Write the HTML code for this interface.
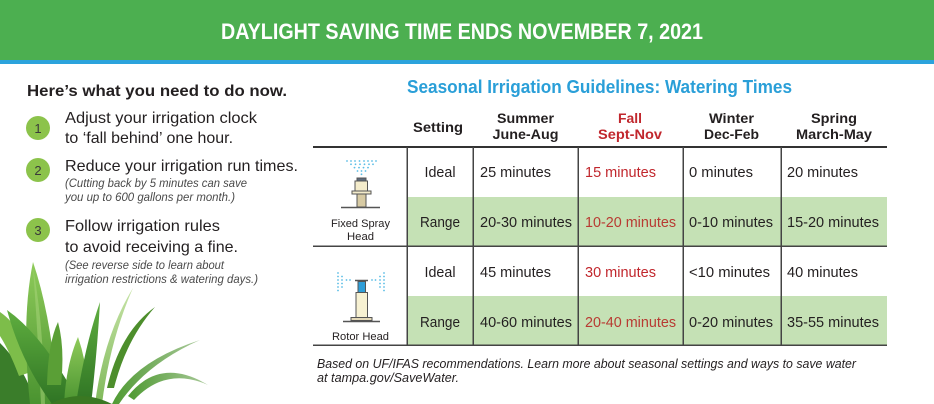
<!DOCTYPE html>
<html><head><meta charset="utf-8"><style>
html,body{margin:0;padding:0;background:#fff;}
svg{display:block;}
</style></head><body>
<svg width="934" height="404" viewBox="0 0 934 404" xmlns="http://www.w3.org/2000/svg">
<defs>
<linearGradient id="lg1" x1="0" y1="0" x2="0" y2="1"><stop offset="0" stop-color="#5fae3f"/><stop offset="1" stop-color="#2f7424"/></linearGradient>
<linearGradient id="lg2" x1="0" y1="0" x2="0" y2="1"><stop offset="0" stop-color="#8fcb5a"/><stop offset="1" stop-color="#4a9330"/></linearGradient>
<linearGradient id="lg3" x1="0" y1="0" x2="0" y2="1"><stop offset="0" stop-color="#c6e3a6"/><stop offset="1" stop-color="#7fb95a"/></linearGradient>
<linearGradient id="lg4" x1="0" y1="0" x2="1" y2="0"><stop offset="0" stop-color="#4f9a32"/><stop offset="1" stop-color="#a9c99a"/></linearGradient>
</defs>
<!-- banner -->
<rect x="0" y="0" width="934" height="60" fill="#4caf50"/>
<rect x="0" y="60" width="934" height="4" fill="#2ba3dc"/>
<text x="221" y="39" font-family="'Liberation Sans Narrow','Liberation Sans',sans-serif" font-weight="bold" font-size="22" fill="#fff" textLength="482" lengthAdjust="spacingAndGlyphs">DAYLIGHT SAVING TIME ENDS NOVEMBER 7, 2021</text>

<!-- plant -->
<g>
<path d="M0,343 Q25,368 36,404 L0,404 Z" fill="#3a7d2a"/>
<path d="M0,312 Q26,330 31,372 L19,376 Q9,350 0,336 Z" fill="#7dbd4a"/>
<path d="M33,262 Q52,318 58,404 L30,404 Q21,320 33,262 Z" fill="url(#lg2)"/>
<path d="M33,268 Q43,320 45,404 L41,404 Q37,320 33,268 Z" fill="#a6d479" opacity="0.55"/>
<path d="M7,310 Q44,336 80,404 L52,404 Q21,362 7,310 Z" fill="url(#lg1)"/>
<path d="M58,322 Q65,348 61,385 L47,385 Q48,343 58,322 Z" fill="#5a9f36"/>
<path d="M78,337 Q90,372 86,404 L64,404 Q66,365 78,337 Z" fill="url(#lg2)"/>
<path d="M100,302 Q97,355 91,404 L76,404 Q85,345 100,302 Z" fill="url(#lg1)"/>
<path d="M133,288 Q110,340 102,404 L95,404 Q104,335 133,288 Z" fill="url(#lg3)"/>
<path d="M155,307 Q126,340 114,388 L107,388 Q120,332 155,307 Z" fill="#4d8e2c"/>
<path d="M112,404 Q132,362 200,340 Q146,364 119,404 Z" fill="url(#lg4)"/>
<path d="M128,396 Q160,356 208,385 Q166,366 134,400 Z" fill="url(#lg4)"/>
<path d="M50,404 Q80,388 112,404 Z" fill="#3a7822"/>
</g>

<!-- left instructions -->
<g font-family="'Liberation Sans',sans-serif">
<text x="27" y="96" font-size="16" font-weight="bold" fill="#231f20" textLength="260" lengthAdjust="spacingAndGlyphs">Here’s what you need to do now.</text>
<circle cx="38" cy="128" r="12" fill="#8cc34b"/>
<circle cx="38" cy="170" r="12" fill="#8cc34b"/>
<circle cx="38" cy="230" r="12" fill="#8cc34b"/>
<text x="38" y="133" font-size="13" fill="#3a3a3a" text-anchor="middle">1</text>
<text x="38" y="175" font-size="13" fill="#3a3a3a" text-anchor="middle">2</text>
<text x="38" y="235" font-size="13" fill="#3a3a3a" text-anchor="middle">3</text>
<g font-size="16" fill="#231f20">
<text x="65" y="123" textLength="192" lengthAdjust="spacingAndGlyphs">Adjust your irrigation clock</text>
<text x="65" y="143" textLength="168" lengthAdjust="spacingAndGlyphs">to ‘fall behind’ one hour.</text>
<text x="65" y="171" textLength="233" lengthAdjust="spacingAndGlyphs">Reduce your irrigation run times.</text>
<text x="65" y="231" textLength="155" lengthAdjust="spacingAndGlyphs">Follow irrigation rules</text>
<text x="65" y="252" textLength="173" lengthAdjust="spacingAndGlyphs">to avoid receiving a fine.</text>
</g>
<g font-size="12" font-style="italic" fill="#4a4a4a" font-family="'Liberation Sans Narrow','Liberation Sans',sans-serif">
<text x="65" y="187" textLength="182" lengthAdjust="spacingAndGlyphs">(Cutting back by 5 minutes can save</text>
<text x="65" y="201" textLength="170" lengthAdjust="spacingAndGlyphs">you up to 600 gallons per month.)</text>
<text x="65" y="269" textLength="159" lengthAdjust="spacingAndGlyphs">(See reverse side to learn about</text>
<text x="65" y="283" textLength="193" lengthAdjust="spacingAndGlyphs">irrigation restrictions &amp; watering days.)</text>
</g>
</g>

<!-- right title -->
<text x="407" y="93" font-family="'Liberation Sans Narrow','Liberation Sans',sans-serif" font-weight="bold" font-size="18" fill="#2a9fd8" textLength="385" lengthAdjust="spacingAndGlyphs">Seasonal Irrigation Guidelines: Watering Times</text>

<!-- table fills -->
<rect x="407" y="197" width="480" height="49" fill="#c5e1b5"/>
<rect x="407" y="296" width="480" height="49" fill="#c5e1b5"/>
<!-- lines -->
<rect x="313" y="146" width="574" height="2" fill="#333"/>
<rect x="313" y="245.5" width="574" height="1.5" fill="#444"/>
<rect x="313" y="344.5" width="574" height="1.5" fill="#444"/>
<g fill="#444">
<rect x="406.5" y="147" width="1.5" height="198"/>
<rect x="472.5" y="147" width="1.5" height="198"/>
<rect x="577.5" y="147" width="1.5" height="198"/>
<rect x="682.5" y="147" width="1.5" height="198"/>
<rect x="780.5" y="147" width="1.5" height="198"/>
</g>

<!-- headers -->
<g font-family="'Liberation Sans',sans-serif" font-weight="bold" font-size="14" fill="#231f20" text-anchor="middle">
<text x="438" y="132" textLength="50" lengthAdjust="spacingAndGlyphs">Setting</text>
<text x="525.5" y="123" textLength="57" lengthAdjust="spacingAndGlyphs">Summer</text>
<text x="525.5" y="139" textLength="66" lengthAdjust="spacingAndGlyphs">June-Aug</text>
<text x="630" y="123" fill="#c1272d" textLength="24" lengthAdjust="spacingAndGlyphs">Fall</text>
<text x="630" y="139" fill="#c1272d" textLength="64" lengthAdjust="spacingAndGlyphs">Sept-Nov</text>
<text x="731.5" y="123" textLength="45" lengthAdjust="spacingAndGlyphs">Winter</text>
<text x="731.5" y="139" textLength="55" lengthAdjust="spacingAndGlyphs">Dec-Feb</text>
<text x="834" y="123" textLength="46" lengthAdjust="spacingAndGlyphs">Spring</text>
<text x="834" y="139" textLength="76" lengthAdjust="spacingAndGlyphs">March-May</text>
</g>

<!-- body -->
<g font-family="'Liberation Sans',sans-serif" font-size="14.5" fill="#231f20">
<text x="440" y="177" text-anchor="middle" textLength="31" lengthAdjust="spacingAndGlyphs">Ideal</text>
<text x="440" y="227" text-anchor="middle" textLength="40" lengthAdjust="spacingAndGlyphs">Range</text>
<text x="440" y="277" text-anchor="middle" textLength="31" lengthAdjust="spacingAndGlyphs">Ideal</text>
<text x="440" y="327" text-anchor="middle" textLength="40" lengthAdjust="spacingAndGlyphs">Range</text>

<text x="480" y="177" textLength="71" lengthAdjust="spacingAndGlyphs">25 minutes</text>
<text x="585" y="177" fill="#c1272d" textLength="71" lengthAdjust="spacingAndGlyphs">15 minutes</text>
<text x="689" y="177" textLength="64" lengthAdjust="spacingAndGlyphs">0 minutes</text>
<text x="787" y="177" textLength="71" lengthAdjust="spacingAndGlyphs">20 minutes</text>

<text x="480" y="227" textLength="92" lengthAdjust="spacingAndGlyphs">20-30 minutes</text>
<text x="585" y="227" fill="#b83a32" textLength="91" lengthAdjust="spacingAndGlyphs">10-20 minutes</text>
<text x="689" y="227" textLength="84" lengthAdjust="spacingAndGlyphs">0-10 minutes</text>
<text x="787" y="227" textLength="92" lengthAdjust="spacingAndGlyphs">15-20 minutes</text>

<text x="480" y="277" textLength="71" lengthAdjust="spacingAndGlyphs">45 minutes</text>
<text x="585" y="277" fill="#c1272d" textLength="71" lengthAdjust="spacingAndGlyphs">30 minutes</text>
<text x="689" y="277" textLength="81" lengthAdjust="spacingAndGlyphs">&lt;10 minutes</text>
<text x="787" y="277" textLength="71" lengthAdjust="spacingAndGlyphs">40 minutes</text>

<text x="480" y="327" textLength="92" lengthAdjust="spacingAndGlyphs">40-60 minutes</text>
<text x="585" y="327" fill="#b83a32" textLength="91" lengthAdjust="spacingAndGlyphs">20-40 minutes</text>
<text x="689" y="327" textLength="84" lengthAdjust="spacingAndGlyphs">0-20 minutes</text>
<text x="787" y="327" textLength="92" lengthAdjust="spacingAndGlyphs">35-55 minutes</text>
</g>

<!-- icon labels -->
<g font-family="'Liberation Sans',sans-serif" font-size="11" fill="#231f20" text-anchor="middle">
<text x="360.5" y="227" textLength="59" lengthAdjust="spacingAndGlyphs">Fixed Spray</text>
<text x="360.5" y="240" textLength="27" lengthAdjust="spacingAndGlyphs">Head</text>
<text x="360.5" y="340" textLength="57" lengthAdjust="spacingAndGlyphs">Rotor Head</text>
</g>

<!-- fixed spray icon -->
<g fill="#5bbde6">
<circle cx="347" cy="161" r="0.9"/><circle cx="351" cy="161" r="0.9"/><circle cx="355" cy="161" r="0.9"/><circle cx="359.5" cy="161" r="0.9"/><circle cx="364" cy="161" r="0.9"/><circle cx="368" cy="161" r="0.9"/><circle cx="372" cy="161" r="0.9"/><circle cx="376" cy="161" r="0.9"/>
<circle cx="351" cy="164.3" r="0.9"/><circle cx="355.5" cy="164.3" r="0.9"/><circle cx="360" cy="164.3" r="0.9"/><circle cx="364.5" cy="164.3" r="0.9"/><circle cx="369" cy="164.3" r="0.9"/><circle cx="373" cy="164.3" r="0.9"/>
<circle cx="354.5" cy="167.6" r="0.9"/><circle cx="359" cy="167.6" r="0.9"/><circle cx="363.5" cy="167.6" r="0.9"/><circle cx="368" cy="167.6" r="0.9"/>
<circle cx="357.5" cy="171" r="0.9"/><circle cx="361.5" cy="171" r="0.9"/><circle cx="365.5" cy="171" r="0.9"/>
<circle cx="361.5" cy="174.3" r="0.9"/>
</g>
<g stroke="#555" stroke-width="1">
<rect x="357" y="178" width="9" height="3" fill="#5d6b7c"/>
<rect x="355" y="181" width="12.5" height="10" fill="#f4eccb"/>
<rect x="352" y="191" width="19" height="3" fill="#f4eccb"/>
<rect x="357" y="194" width="9" height="13" fill="#d7caa3"/>
<line x1="341" y1="207.5" x2="380" y2="207.5" stroke-width="1.5"/>
</g>

<!-- rotor icon -->
<g fill="#5bbde6">
<circle cx="338" cy="273" r="0.9"/><circle cx="338" cy="276.5" r="0.9"/><circle cx="338" cy="280" r="0.9"/><circle cx="338" cy="283.5" r="0.9"/><circle cx="338" cy="287" r="0.9"/><circle cx="338" cy="290.5" r="0.9"/>
<circle cx="342" cy="276.5" r="0.9"/><circle cx="342" cy="280" r="0.9"/><circle cx="342" cy="283.5" r="0.9"/><circle cx="342" cy="287" r="0.9"/>
<circle cx="346.5" cy="280" r="0.9"/><circle cx="350" cy="280" r="0.9"/>
<circle cx="384" cy="273" r="0.9"/><circle cx="384" cy="276.5" r="0.9"/><circle cx="384" cy="280" r="0.9"/><circle cx="384" cy="283.5" r="0.9"/><circle cx="384" cy="287" r="0.9"/><circle cx="384" cy="290.5" r="0.9"/>
<circle cx="380" cy="276.5" r="0.9"/><circle cx="380" cy="280" r="0.9"/><circle cx="380" cy="283.5" r="0.9"/><circle cx="380" cy="287" r="0.9"/>
<circle cx="375.5" cy="280" r="0.9"/><circle cx="372" cy="280" r="0.9"/>
</g>
<g stroke="#555" stroke-width="1">
<rect x="358" y="281.5" width="7.5" height="11" fill="#2f9ed8"/>
<line x1="355" y1="280.5" x2="368" y2="280.5" stroke-width="1.5"/>
<rect x="356" y="292.5" width="11.5" height="25" fill="#f7f1d2"/>
<rect x="351" y="317.5" width="21" height="3" fill="#e4d9b8"/>
<line x1="343" y1="321.5" x2="380" y2="321.5" stroke-width="1.5"/>
</g>

<!-- footer -->
<g font-family="'Liberation Sans',sans-serif" font-size="12.5" font-style="italic" fill="#231f20">
<text x="317" y="368" textLength="539" lengthAdjust="spacingAndGlyphs">Based on UF/IFAS recommendations. Learn more about seasonal settings and ways to save water</text>
<text x="317" y="382" textLength="142" lengthAdjust="spacingAndGlyphs">at tampa.gov/SaveWater.</text>
</g>
</svg>
</body></html>
